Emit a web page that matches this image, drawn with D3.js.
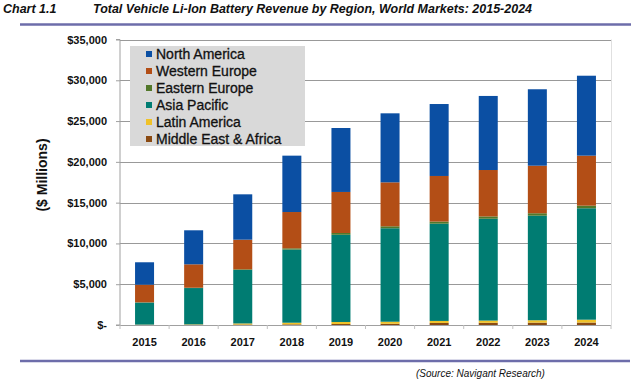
<!DOCTYPE html>
<html><head><meta charset="utf-8">
<script src="https://cdn.jsdelivr.net/npm/d3@7/dist/d3.min.js"></script>
<style>body{margin:0;background:#fff;}svg{display:block;font-family:Arial,"Liberation Sans",sans-serif;}</style>
</head><body>
<svg id="c" width="640" height="379"></svg>
<script>
const years = ["2015","2016","2017","2018","2019","2020","2021","2022","2023","2024"];
const seriesNames = ["Middle East & Africa","Latin America","Asia Pacific","Eastern Europe","Western Europe","North America"];
const middleEastAfrica = [20,30,60,80,120,150,250,270,290,300];
const latinAmerica     = [30,50,130,200,250,250,250,270,290,350];
const asiaPacific      = [2700,4450,6560,8970,10690,11460,11920,12490,12820,13660];
const easternEurope    = [30,40,80,150,220,240,260,280,300,320];
const westernEurope    = [2160,2870,3630,4450,5030,5390,5590,5690,5830,6130];
const northAmerica     = [2750,4170,5560,6910,7840,8460,8820,9080,9370,9800];
const yTicks = [0,5000,10000,15000,20000,25000,30000,35000];
const legendOrder = ["North America","Western Europe","Eastern Europe","Asia Pacific","Latin America","Middle East & Africa"];
const colors = {
  "North America":"#0b4fa3",
  "Western Europe":"#b34e16",
  "Eastern Europe":"#52782a",
  "Asia Pacific":"#007c72",
  "Latin America":"#f0c228",
  "Middle East & Africa":"#8a4a12"
};
const seriesData = [middleEastAfrica, latinAmerica, asiaPacific, easternEurope, westernEurope, northAmerica];

const table = years.map((y,i)=>{
  const o = {year:y};
  seriesNames.forEach((s,j)=>o[s]=seriesData[j][i]);
  return o;
});

const svg = d3.select("#c");
const L=120, R=611, T=39.5, B=325;
const x = d3.scaleBand().domain(years).range([L,R]).paddingInner(0.613).paddingOuter(0.3065);
const y = d3.scaleLinear().domain([0,35000]).range([B,T]);

// header
svg.append("text").attr("x",3).attr("y",13).attr("font-size",12.5).attr("font-weight","bold").attr("font-style","italic").attr("fill","#111").text("Chart 1.1");
svg.append("text").attr("x",93).attr("y",13).attr("font-size",12).attr("font-weight","bold").attr("font-style","italic").attr("fill","#111")
  .attr("textLength",439).attr("lengthAdjust","spacingAndGlyphs")
  .text("Total Vehicle Li-Ion Battery Revenue by Region, World Markets: 2015-2024");
svg.append("line").attr("x1",20).attr("x2",631).attr("y1",24.5).attr("y2",24.5).attr("stroke","#6d6daa").attr("stroke-width",2.5);

// gridlines
svg.append("g").selectAll("line").data(yTicks.filter(d=>d>0)).join("line")
  .attr("x1",L).attr("x2",R).attr("y1",d=>Math.round(y(d))+0.5).attr("y2",d=>Math.round(y(d))+0.5)
  .attr("stroke","#999999").attr("stroke-width",1.2);
svg.append("line").attr("x1",R+0.5).attr("x2",R+0.5).attr("y1",T).attr("y2",B).attr("stroke","#e0e0e0");

// bars
const stack = d3.stack().keys(seriesNames)(table);
svg.append("g").selectAll("g").data(stack).join("g").attr("fill",d=>colors[d.key])
  .selectAll("rect").data(d=>d).join("rect")
  .attr("x",d=>x(d.data.year)).attr("width",x.bandwidth())
  .attr("y",d=>y(d[1])).attr("height",d=>y(d[0])-y(d[1]));

// axes
const yAxis = svg.append("g").attr("transform",`translate(${L},0)`)
  .call(d3.axisLeft(y).tickValues(yTicks).tickSize(4).tickPadding(9)
    .tickFormat(d=>d===0?"$-":"$"+d3.format(",")(d)));
yAxis.select(".domain").attr("stroke","#a0a0a0").attr("d",`M-4,${T}H0V${B}H-4`);
yAxis.selectAll(".tick line").attr("stroke","#a0a0a0");
yAxis.selectAll("text").attr("font-size",11).attr("font-weight","bold").attr("fill","#111").attr("font-family","Arial, 'Liberation Sans', sans-serif");

const xAxis = svg.append("g").attr("transform",`translate(0,${B})`)
  .call(d3.axisBottom(x).tickSize(0).tickPadding(13));
xAxis.select(".domain").attr("stroke","#a0a0a0").attr("d",`M${L},0.5H${R}`);
xAxis.selectAll("text").attr("font-size",11).attr("font-weight","bold").attr("fill","#111").attr("font-family","Arial, 'Liberation Sans', sans-serif");
// category separator ticks
const step = x.step();
svg.append("g").selectAll("line").data(d3.range(years.length+1)).join("line")
  .attr("x1",i=>L+i*step).attr("x2",i=>L+i*step).attr("y1",B).attr("y2",B+4)
  .attr("stroke","#c0c0c0");

// y title
svg.append("text").attr("transform","translate(47,175) rotate(-90)").attr("text-anchor","middle")
  .attr("font-size",14).attr("font-weight","bold").attr("fill","#111").text("($ Millions)");

// legend
const lg = svg.append("g");
lg.append("rect").attr("x",130).attr("y",46).attr("width",175).attr("height",100).attr("fill","#d9d9d9");
legendOrder.forEach((k,i)=>{
  const cy = 54 + i*17;
  lg.append("rect").attr("x",146).attr("y",cy-3).attr("width",6).attr("height",6).attr("fill",colors[k]);
  lg.append("text").attr("x",156).attr("y",cy+5).attr("font-size",14).attr("fill","#111")
    .style("paint-order","stroke").attr("stroke","#111").attr("stroke-width",0.3).text(k);
});

// footer
svg.append("line").attr("x1",20).attr("x2",630).attr("y1",361).attr("y2",361).attr("stroke","#6d6daa").attr("stroke-width",2.5);
svg.append("text").attr("x",416).attr("y",377).attr("font-size",10).attr("font-style","italic").attr("fill","#111").text("(Source: Navigant Research)");
</script>
</body></html>
